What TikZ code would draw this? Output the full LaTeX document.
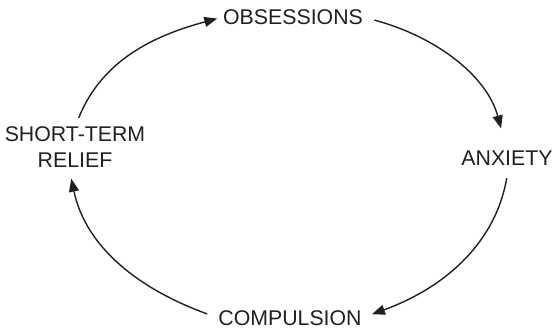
\documentclass[tikz,border=0pt]{standalone}
\usepackage{fontspec}
\setmainfont{Liberation Sans}
\usetikzlibrary{arrows.meta}
\definecolor{ink}{HTML}{231F20}
\begin{document}
\begin{tikzpicture}[x=1pt,y=-1pt,
  stage/.style={inner sep=0pt, outer sep=0pt, text=ink, align=center,
    font=\fontsize{21.3}{26}\selectfont},
  cycle/.style={draw=ink, line width=1.4pt,
    -{Triangle[length=13pt,width=10pt]}}]
  \useasboundingbox (0,0) rectangle (554,333);

  % the four stages of the cycle
  \node[stage] (obs) at (293,17) {OBSESSIONS};
  \node[stage] (anx) at (507,158) {ANXIETY};
  \node[stage] (comp) at (290,318) {COMPULSION};
  \node[stage] (relief) at (75,147.5) {SHORT-TERM\\RELIEF};

  % curved arrows running clockwise round the cycle
  \draw[cycle, shorten <=10pt, shorten >=6pt]
    (relief.north) to[out=68, in=195] (obs.west);
  \draw[cycle, shorten <=12pt, shorten >=23pt]
    (obs.east) to[out=-15, in=105] (anx.north);
  \draw[cycle, shorten <=13pt, shorten >=11pt]
    ([xshift=2pt]anx.south) to[out=-100, in=20] (comp.east);
  \draw[cycle, shorten <=12pt, shorten >=11pt]
    (comp.west) to[out=160, in=-78] ([xshift=-6pt]relief.south);
\end{tikzpicture}
\end{document}
